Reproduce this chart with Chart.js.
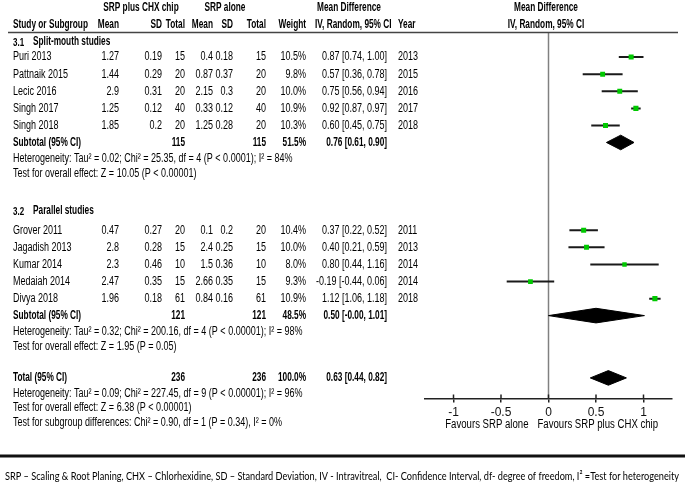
<!DOCTYPE html>
<html>
<head>
<meta charset="utf-8">
<script src="https://cdn.jsdelivr.net/npm/chart.js@4.4.1/dist/chart.umd.min.js"></script>
<style>
  html, body { margin: 0; padding: 0; background: #fff; }
  #wrap { width: 685px; height: 488px; position: relative; }
</style>
</head>
<body>
<div id="wrap"><canvas id="forest"></canvas></div>
<script>
// study level data (RevMan style forest plot)
const studies = ['Puri 2013', 'Pattnaik 2015', 'Lecic 2016', 'Singh 2017', 'Singh 2018',
                 'Grover 2011', 'Jagadish 2013', 'Kumar 2014', 'Medaiah 2014', 'Divya 2018'];
const studyGroup = [0, 0, 0, 0, 0, 1, 1, 1, 1, 1];
const chxMean = [1.27, 1.44, 2.9, 1.25, 1.85, 0.47, 2.8, 2.3, 2.47, 1.96];
const chxSD = [0.19, 0.29, 0.31, 0.12, 0.2, 0.27, 0.28, 0.46, 0.35, 0.18];
const chxTotal = [15, 20, 20, 40, 20, 20, 15, 10, 15, 61];
const aloneMean = [0.4, 0.87, 2.15, 0.33, 1.25, 0.1, 2.4, 1.5, 2.66, 0.84];
const aloneSD = [0.18, 0.37, 0.3, 0.12, 0.28, 0.2, 0.25, 0.36, 0.35, 0.16];
const aloneTotal = [15, 20, 20, 40, 20, 20, 15, 10, 15, 61];
const weights = [10.5, 9.8, 10.0, 10.9, 10.3, 10.4, 10.0, 8.0, 9.3, 10.9];
const meanDiff = [0.87, 0.57, 0.75, 0.92, 0.60, 0.37, 0.40, 0.80, -0.19, 1.12];
const ciLow = [0.74, 0.36, 0.56, 0.87, 0.45, 0.22, 0.21, 0.44, -0.44, 1.06];
const ciHigh = [1.00, 0.78, 0.94, 0.97, 0.75, 0.52, 0.59, 1.16, 0.06, 1.18];
const years = [2013, 2015, 2016, 2017, 2018, 2011, 2013, 2014, 2014, 2018];

// subgroups
const groupCodes = ['3.1', '3.2'];
const groupNames = ['Split-mouth studies', 'Parallel studies'];
const subChxTotal = [115, 121];
const subAloneTotal = [115, 121];
const subWeight = [51.5, 48.5];
const subMD = [0.76, 0.50];
const subLow = [0.61, -0.00];
const subHigh = [0.90, 1.01];
const subHet = ['Heterogeneity: Tau² = 0.02; Chi² = 25.35, df = 4 (P < 0.0001); I² = 84%',
                'Heterogeneity: Tau² = 0.32; Chi² = 200.16, df = 4 (P < 0.00001); I² = 98%'];
const subTest = ['Test for overall effect: Z = 10.05 (P < 0.00001)',
                 'Test for overall effect: Z = 1.95 (P = 0.05)'];

// overall
const totalChx = 236;
const totalAlone = 236;
const totalWeight = 100.0;
const totalMD = 0.63;
const totalLow = 0.44;
const totalHigh = 0.82;
const totalNotes = ['Heterogeneity: Tau² = 0.09; Chi² = 227.45, df = 9 (P < 0.00001); I² = 96%',
                    'Test for overall effect: Z = 6.38 (P < 0.00001)',
                    'Test for subgroup differences: Chi² = 0.90, df = 1 (P = 0.34), I² = 0%'];

const tickValues = [-1, -0.5, 0, 0.5, 1];
const favours = ['Favours SRP alone', 'Favours SRP plus CHX chip'];
const footnote = 'SRP – Scaling & Root Planing, CHX – Chlorhexidine, SD – Standard Deviation, IV - Intravitreal,  CI- Confidence Interval, df- degree of freedom, I² =Test for heterogeneity';

const FONT = '"Liberation Sans", Arial, sans-serif';
const NARROW = 0.75;       // horizontal squeeze to mimic a condensed face
const NARROW_BOLD = 0.69;
const GREEN = '#00c800';
const Y_MAX = 22;

// row positions (in line units) built with a cursor
const rows = { title: [], study: [], sub: [], het: [], test: [], total: 0, notes: [] };
let cur = 0.5;
groupNames.forEach(function (g, gi) {
    if (gi > 0) cur += 2.2;
    rows.title.push(cur);
    cur += gi === 0 ? 0.95 : 1.18;
    let first = true;
    studies.forEach(function (s, i) {
        if (studyGroup[i] !== gi) return;
        if (!first) cur += 1.03;
        first = false;
        rows.study[i] = cur;
    });
    cur += 1.02; rows.sub.push(cur);
    cur += 0.95; rows.het.push(cur);
    cur += 0.95; rows.test.push(cur);
});
cur += 1.85; rows.total = cur;
cur += 0.97; rows.notes.push(cur);
cur += 0.85; rows.notes.push(cur);
cur += 0.9; rows.notes.push(cur);

function fmt2(v) {
    return (Object.is(v, -0) ? '-' : '') + v.toFixed(2);
}
function ciText(m, l, h) {
    return fmt2(m) + ' [' + fmt2(l) + ', ' + fmt2(h) + ']';
}

const datasets = [];
// vertical line of no effect
datasets.push({
    data: [{ x: 0, y: 0 }, { x: 0, y: Y_MAX }],
    showLine: true, borderColor: '#808080', borderWidth: 1.5, pointRadius: 0, order: 5
});
// confidence interval lines
studies.forEach(function (s, i) {
    datasets.push({
        data: [{ x: ciLow[i], y: rows.study[i] }, { x: ciHigh[i], y: rows.study[i] }],
        showLine: true, borderColor: '#1a1a1a', borderWidth: 2, pointRadius: 0, order: 1
    });
});
// point estimates (square size by weight)
datasets.push({
    data: studies.map(function (s, i) { return { x: meanDiff[i], y: rows.study[i] }; }),
    pointStyle: 'rect',
    pointRadius: weights.map(function (w) { return Math.sqrt(w) * 1.1; }),
    backgroundColor: GREEN, borderWidth: 0, order: 0
});
// diamonds
function diamond(m, l, h, y) {
    const d = 0.44;
    return {
        data: [{ x: l, y: y }, { x: m, y: y - d }, { x: h, y: y }, { x: m, y: y + d }, { x: l, y: y }],
        showLine: true, fill: 'shape', backgroundColor: '#000', borderColor: '#000',
        borderWidth: 1, pointRadius: 0, tension: 0, order: 0
    };
}
groupNames.forEach(function (g, gi) {
    datasets.push(diamond(subMD[gi], subLow[gi], subHigh[gi], rows.sub[gi]));
});
datasets.push(diamond(totalMD, totalLow, totalHigh, rows.total));

const tablePlugin = {
    id: 'table',
    afterDraw: function (chart) {
        const ctx = chart.ctx;
        const y = chart.scales.y;
        const x = chart.scales.x;
        function txt(s, px, py, align, bold, size, squeeze) {
            ctx.save();
            ctx.font = (bold ? 'bold ' : '') + (size || 12) + 'px ' + FONT;
            ctx.textAlign = align;
            ctx.translate(px, py);
            ctx.scale(squeeze || (bold ? NARROW_BOLD : NARROW), 1);
            ctx.fillText(s, 0, 0);
            ctx.restore();
        }
        ctx.save();
        ctx.fillStyle = '#000';
        ctx.textBaseline = 'middle';

        // header
        txt('SRP plus CHX chip', 141, 8, 'center', true);
        txt('SRP alone', 225, 8, 'center', true);
        txt('Mean Difference', 349, 8, 'center', true);
        txt('Mean Difference', 546, 8, 'center', true);
        txt('Study or Subgroup', 13, 25, 'left', true);
        txt('Mean', 119, 25, 'right', true);
        txt('SD', 162, 25, 'right', true);
        txt('Total', 185, 25, 'right', true);
        txt('Mean', 213, 25, 'right', true);
        txt('SD', 233, 25, 'right', true);
        txt('Total', 266, 25, 'right', true);
        txt('Weight', 306, 25, 'right', true);
        txt('IV, Random, 95% CI', 315, 25, 'left', true);
        txt('Year', 398, 25, 'left', true);
        txt('IV, Random, 95% CI', 546, 25, 'center', true);

        ctx.strokeStyle = '#444';
        ctx.lineWidth = 1.5;
        ctx.beginPath();
        ctx.moveTo(8, 32.5); ctx.lineTo(678, 32.5);
        ctx.stroke();

        groupNames.forEach(function (g, gi) {
            const ty = y.getPixelForValue(rows.title[gi]);
            txt(groupCodes[gi], 13, ty + 1.5, 'left', true, 10, 0.8);
            txt(g, 33, ty, 'left', true);
            studies.forEach(function (s, i) {
                if (studyGroup[i] !== gi) return;
                const py = y.getPixelForValue(rows.study[i]);
                txt(s, 13, py, 'left');
                txt(String(chxMean[i]), 119, py, 'right');
                txt(String(chxSD[i]), 162, py, 'right');
                txt(String(chxTotal[i]), 185, py, 'right');
                txt(String(aloneMean[i]), 213, py, 'right');
                txt(String(aloneSD[i]), 233, py, 'right');
                txt(String(aloneTotal[i]), 266, py, 'right');
                txt(weights[i].toFixed(1) + '%', 306, py, 'right');
                txt(ciText(meanDiff[i], ciLow[i], ciHigh[i]), 387, py, 'right');
                txt(String(years[i]), 398, py, 'left');
            });
            const sy = y.getPixelForValue(rows.sub[gi]);
            txt('Subtotal (95% CI)', 13, sy, 'left', true);
            txt(String(subChxTotal[gi]), 185, sy, 'right', true);
            txt(String(subAloneTotal[gi]), 266, sy, 'right', true);
            txt(subWeight[gi].toFixed(1) + '%', 306, sy, 'right', true);
            txt(ciText(subMD[gi], subLow[gi], subHigh[gi]), 387, sy, 'right', true);
            txt(subHet[gi], 13, y.getPixelForValue(rows.het[gi]), 'left');
            txt(subTest[gi], 13, y.getPixelForValue(rows.test[gi]), 'left');
        });

        const ty = y.getPixelForValue(rows.total);
        txt('Total (95% CI)', 13, ty, 'left', true);
        txt(String(totalChx), 185, ty, 'right', true);
        txt(String(totalAlone), 266, ty, 'right', true);
        txt(totalWeight.toFixed(1) + '%', 306, ty, 'right', true);
        txt(ciText(totalMD, totalLow, totalHigh), 387, ty, 'right', true);
        totalNotes.forEach(function (n, k) {
            txt(n, 13, y.getPixelForValue(rows.notes[k]), 'left');
        });

        // upper half of tick marks
        const ab = chart.chartArea.bottom;
        ctx.strokeStyle = '#222';
        ctx.lineWidth = 1.5;
        tickValues.forEach(function (v) {
            const px = x.getPixelForValue(v);
            ctx.beginPath();
            ctx.moveTo(px, ab - 4); ctx.lineTo(px, ab);
            ctx.stroke();
        });

        const zx = x.getPixelForValue(0);
        txt(favours[0], zx - 20, 425, 'right', false, 12, 0.8);
        txt(favours[1], zx - 11, 425, 'left', false, 12, 0.8);

        // footnote
        ctx.strokeStyle = '#111';
        ctx.lineWidth = 3;
        ctx.beginPath();
        ctx.moveTo(0, 456); ctx.lineTo(685, 456);
        ctx.stroke();
        ctx.font = '12px Lato, "Open Sans", sans-serif';
        ctx.textAlign = 'left';
        ctx.fillText(footnote, 5, 476, 674);
        ctx.restore();
    }
};

new Chart(document.getElementById('forest'), {
    type: 'scatter',
    data: { datasets: datasets },
    options: {
        responsive: true,
        maintainAspectRatio: false,
        animation: false,
        layout: { padding: { left: 425, right: 13, top: 33, bottom: 59.5 } },
        plugins: { legend: { display: false }, tooltip: { enabled: false } },
        scales: {
            x: {
                type: 'linear', min: -1.3, max: 1.3,
                afterBuildTicks: function (s) { s.ticks = tickValues.map(function (v) { return { value: v }; }); },
                afterFit: function (s) { s.height = 30; },
                ticks: {
                    callback: function (v) { return String(v); },
                    color: '#111', font: { family: FONT, size: 12 }, padding: 3,
                    maxRotation: 0, autoSkip: false
                },
                grid: { drawOnChartArea: false, drawTicks: true, tickLength: 4, color: '#222', lineWidth: 1.5 },
                border: { display: true, color: '#222', width: 1.5 }
            },
            y: { type: 'linear', display: false, reverse: true, min: 0, max: Y_MAX }
        }
    },
    plugins: [tablePlugin]
});
</script>
</body>
</html>
